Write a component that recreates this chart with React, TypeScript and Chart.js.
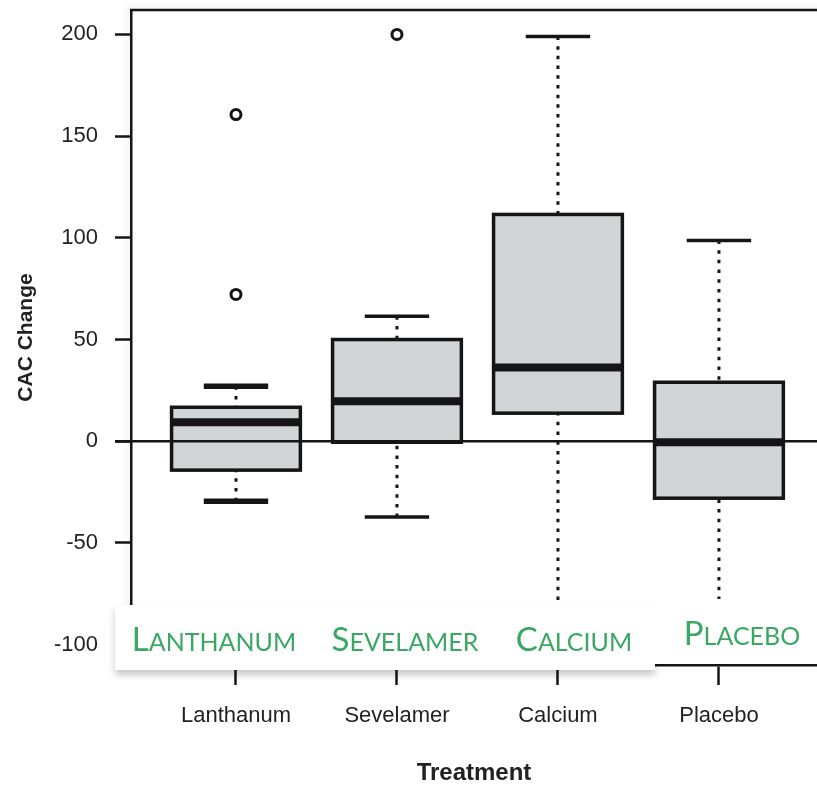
import React, { useEffect, useRef } from "react";
import { Chart, registerables } from "chart.js";

Chart.register(...registerables);

const treatments = ["Lanthanum", "Sevelamer", "Calcium", "Placebo"];
const whiskerLow = [-29.5, -37.3, -140, -140];
const quartile1 = [-14.2, -0.5, 13.8, -28];
const medians = [9.3, 19.6, 36.3, -0.5];
const quartile3 = [16.7, 50, 111.5, 29];
const whiskerHigh = [27, 61.4, 199, 98.7];
const outlierGroup = [1, 1, 2];
const outlierValue = [160.6, 72.2, 200];
const yTicks = [-100, -50, 0, 50, 100, 150, 200];

const capWidths = [5.5, 3.5, 3.5, 3.5];
const ink = "#151515";
const green = "#3aa863";

const seg = (ctx: any, x1: number, y1: number, x2: number, y2: number) => {
  ctx.beginPath();
  ctx.moveTo(x1, y1);
  ctx.lineTo(x2, y2);
  ctx.stroke();
};

const boxPlugin = {
  id: "boxes",
  beforeDraw(chart: any) {
    // faint shadow along the left and top of the frame
    const { ctx, chartArea } = chart;
    ctx.save();
    ctx.strokeStyle = "rgba(0,0,0,0.35)";
    ctx.lineWidth = 2;
    ctx.shadowColor = "rgba(0,0,0,0.35)";
    ctx.shadowBlur = 6;
    ctx.shadowOffsetX = -3;
    ctx.shadowOffsetY = -2;
    ctx.beginPath();
    ctx.moveTo(chartArea.left, chartArea.bottom);
    ctx.lineTo(chartArea.left, chartArea.top);
    ctx.lineTo(chartArea.right + 10, chartArea.top);
    ctx.stroke();
    ctx.restore();
  },
  beforeDatasetsDraw(chart: any) {
    const { ctx, chartArea, scales } = chart;
    const x = scales.x;
    const y = scales.y;
    ctx.save();
    ctx.beginPath();
    ctx.rect(chartArea.left, chartArea.top, chartArea.right - chartArea.left, chartArea.bottom - chartArea.top);
    ctx.clip();
    ctx.strokeStyle = ink;
    treatments.forEach((_, i) => {
      const pos = i + 1;
      const cx = x.getPixelForValue(pos);
      const bl = x.getPixelForValue(pos - 0.4);
      const br = x.getPixelForValue(pos + 0.4);
      const sl = x.getPixelForValue(pos - 0.2);
      const sr = x.getPixelForValue(pos + 0.2);
      const yLo = y.getPixelForValue(whiskerLow[i]);
      const yQ1 = y.getPixelForValue(quartile1[i]);
      const yMed = y.getPixelForValue(medians[i]);
      const yQ3 = y.getPixelForValue(quartile3[i]);
      const yHi = y.getPixelForValue(whiskerHigh[i]);

      // dotted whiskers
      ctx.lineWidth = 3;
      ctx.setLineDash([3.5, 6.2]);
      seg(ctx, cx, yHi, cx, yQ3);
      seg(ctx, cx, yLo, cx, yQ1);
      ctx.setLineDash([]);

      // staples
      ctx.lineWidth = capWidths[i];
      seg(ctx, sl, yHi, sr, yHi);
      seg(ctx, sl, yLo, sr, yLo);

      // box
      ctx.fillStyle = "#d2d5d6";
      ctx.fillRect(bl, yQ3, br - bl, yQ1 - yQ3);
      ctx.lineWidth = 3.5;
      ctx.strokeRect(bl, yQ3, br - bl, yQ1 - yQ3);

      // median
      ctx.lineWidth = 8;
      seg(ctx, bl, yMed, br, yMed);
    });
    ctx.restore();

    // reference line at zero and top frame
    ctx.save();
    ctx.strokeStyle = ink;
    ctx.lineWidth = 2.5;
    const y0 = y.getPixelForValue(0);
    seg(ctx, chartArea.left - 16, y0, chartArea.right, y0);
    seg(ctx, chartArea.left - 1, chartArea.top, chartArea.right, chartArea.top);
    ctx.restore();
  },
};

const overlayLabels = [
  { text: treatments[0], center: 214, baseline: 651 },
  { text: treatments[1], center: 405, baseline: 651 },
  { text: treatments[2], center: 574, baseline: 651 },
  { text: treatments[3], center: 742, baseline: 645 },
];

const SmallCaps = ({ text }: { text: string }) => (
  <>
    <span>{text[0].toUpperCase()}</span>
    <span style={{ fontSize: 25 }}>{text.slice(1).toUpperCase()}</span>
  </>
);

const App = () => {
  const canvasEl = useRef<HTMLCanvasElement>(null);

  useEffect(() => {
    const ctx = canvasEl.current!.getContext("2d")!;
    Chart.defaults.font.family = "'Liberation Sans', Arial, sans-serif";

    const myChart = new Chart(ctx, {
      type: "scatter",
      data: {
        datasets: [
          {
            label: "Outliers",
            data: outlierGroup.map((g, i) => ({ x: g, y: outlierValue[i] })),
            pointRadius: 5,
            pointBorderWidth: 3,
            borderColor: ink,
            backgroundColor: "#ffffff",
            showLine: false,
          },
        ],
      },
      options: {
        responsive: true,
        maintainAspectRatio: false,
        animation: false,
        layout: { autoPadding: false, padding: { top: 10, left: 0, right: 0, bottom: 0 } },
        plugins: {
          legend: { display: false },
          tooltip: { enabled: false },
        },
        scales: {
          x: {
            type: "linear",
            min: 0.348,
            max: 4.609,
            afterBuildTicks: (axis: any) => {
              axis.ticks = treatments.map((_, i) => ({ value: i + 1 }));
            },
            afterFit: (axis: any) => {
              axis.height = 123;
              axis.paddingLeft = 0;
              axis.paddingRight = 0;
            },
            ticks: {
              callback: (v: any) => treatments[Math.round(Number(v)) - 1] ?? "",
              font: { size: 22 },
              color: "#222",
              padding: 18,
              maxRotation: 0,
            },
            grid: {
              drawOnChartArea: false,
              drawTicks: true,
              tickLength: 20,
              tickWidth: 2.5,
              tickColor: ink,
            },
            border: { display: true, color: ink, width: 2.5 },
            title: {
              display: true,
              text: "Treatment",
              font: { size: 24, weight: "bold" },
              color: "#222",
              padding: { top: 0, bottom: 0 },
            },
          },
          y: {
            min: -110,
            max: 212,
            afterBuildTicks: (axis: any) => {
              axis.ticks = yTicks.map((v) => ({ value: v }));
            },
            afterFit: (axis: any) => {
              axis.width = 131;
              axis.paddingTop = 0;
              axis.paddingBottom = 0;
            },
            ticks: {
              font: { size: 22 },
              color: "#222",
              padding: 17,
            },
            grid: {
              drawOnChartArea: false,
              drawTicks: true,
              tickLength: 16,
              tickWidth: 2.5,
              tickColor: ink,
            },
            border: { display: true, color: ink, width: 2.5 },
            title: {
              display: true,
              text: "CAC Change",
              font: { size: 21, weight: "bold" },
              color: "#222",
              padding: { top: 14, bottom: 0 },
            },
          },
        },
      },
      plugins: [boxPlugin],
    } as any);

    return () => {
      myChart.destroy();
    };
  }, []);

  return (
    <div style={{ position: "absolute", left: 0, top: 0, width: 817, height: 788, background: "#fff", overflow: "hidden" }}>
      <canvas ref={canvasEl}></canvas>
      <div
        style={{
          position: "absolute",
          left: 115,
          top: 605,
          width: 540,
          height: 65,
          background: "#fff",
          boxShadow: "0 5px 7px rgba(0,0,0,0.22)",
        }}
      />
      <div
        style={{
          position: "absolute",
          left: 655,
          top: 599,
          width: 162,
          height: 65,
          background: "#fff",
        }}
      />
      {overlayLabels.map((l) => (
        <div
          key={l.text}
          style={{
            position: "absolute",
            left: l.center - 150,
            top: l.baseline - 29.3,
            width: 300,
            textAlign: "center",
            fontFamily: "Lato, 'Open Sans', sans-serif",
            fontSize: 33,
            lineHeight: 1,
            color: green,
            whiteSpace: "nowrap",
          }}
        >
          <SmallCaps text={l.text} />
        </div>
      ))}
    </div>
  );
};

export default App;
